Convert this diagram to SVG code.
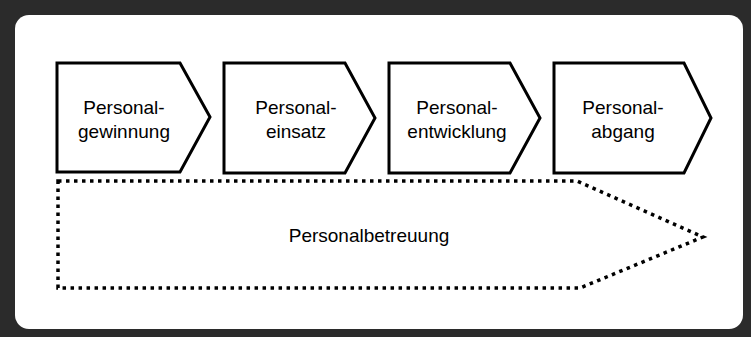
<svg xmlns="http://www.w3.org/2000/svg" width="751" height="337" viewBox="0 0 751 337">
<style>
.frame{fill:#2b2b2b}
.inner{fill:#ffffff}
.chev{fill:#ffffff;stroke:#000;stroke-width:3;stroke-linejoin:miter}
.dots{fill:none;stroke:#000;stroke-width:3.5;stroke-dasharray:3.5 4.5}
.lbl{font-family:"Liberation Sans",Arial,Helvetica,sans-serif;font-size:19px;fill:#000;text-anchor:middle}
</style>
<g id="frame">
<rect class="frame" x="0" y="0" width="751" height="337"/>
<rect class="inner" x="15" y="15" width="728" height="314" rx="14" ry="14"/>
</g>
<g id="personalgewinnung">
<polygon class="chev" points="57,63 180,63 210,117 180,172 57,172"/>
<text class="lbl" x="124" y="114">Personal-</text>
<text class="lbl" x="124" y="138">gewinnung</text>
</g>
<g id="personaleinsatz">
<polygon class="chev" points="224,63 345,63 375,118 345,173 224,173"/>
<text class="lbl" x="296" y="114">Personal-</text>
<text class="lbl" x="296" y="138">einsatz</text>
</g>
<g id="personalentwicklung">
<polygon class="chev" points="389,63 510,63 540,118 510,173 389,173"/>
<text class="lbl" x="457" y="114">Personal-</text>
<text class="lbl" x="457" y="138">entwicklung</text>
</g>
<g id="personalabgang">
<polygon class="chev" points="554,63 684,63 711,118 684,173 554,173"/>
<text class="lbl" x="623" y="114">Personal-</text>
<text class="lbl" x="623" y="138">abgang</text>
</g>
<g id="personalbetreuung">
<polygon class="dots" points="58,181 577,181 703,237 580,288 58,288"/>
<text class="lbl" x="369" y="242">Personalbetreuung</text>
</g>
<g id="connectors"></g>
</svg>
